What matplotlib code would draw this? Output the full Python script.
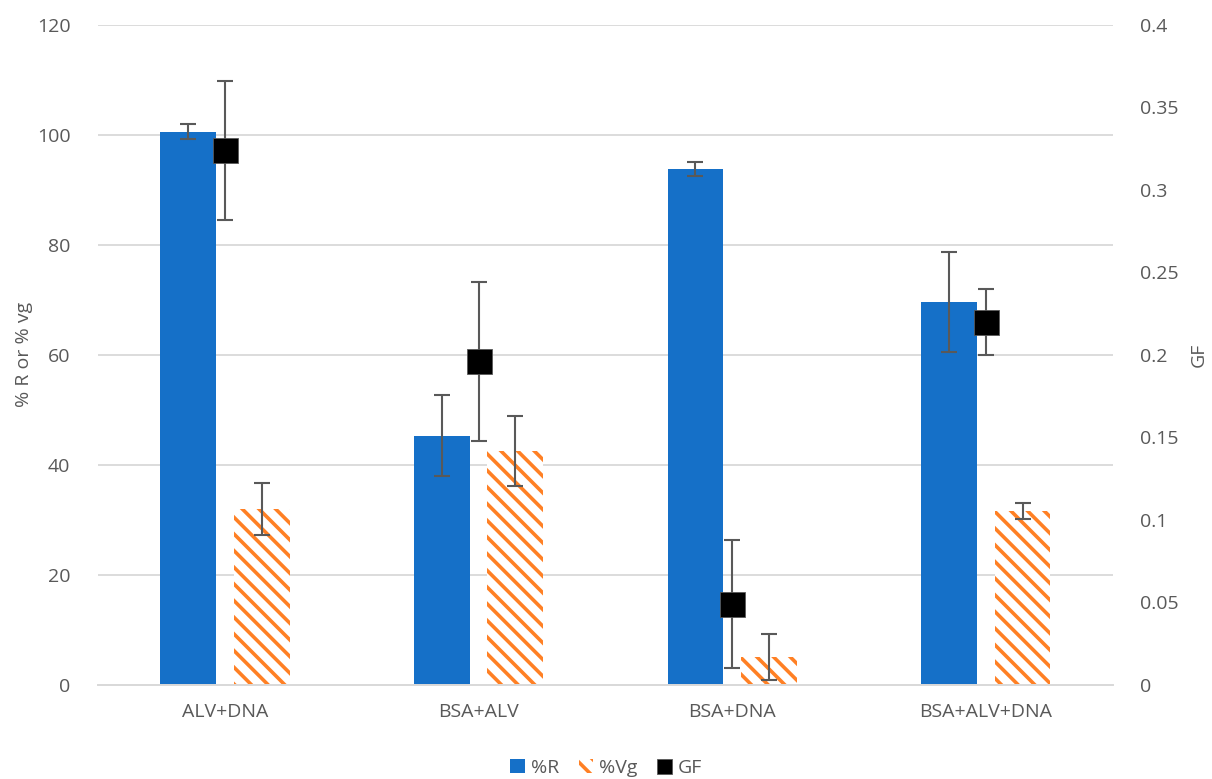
import numpy as np
import matplotlib.pyplot as plt

plt.rcParams["font.family"] = ["Open Sans", "DejaVu Sans"]
plt.rcParams["hatch.linewidth"] = 2.6

# ── Data ────────────────────────────────────────────────────────────────────────

categories = ["ALV+DNA", "BSA+ALV", "BSA+DNA", "BSA+ALV+DNA"]

r_pct = [100.6, 45.3, 93.8, 69.6]
r_err = [1.4, 7.4, 1.3, 9.1]

vg_pct = [32.0, 42.5, 5.1, 31.6]
vg_err = [4.7, 6.4, 4.2, 1.5]

gf = [0.324, 0.196, 0.049, 0.220]
gf_err = [0.042, 0.048, 0.039, 0.020]

BLUE = "#1570C8"
ORANGE = "#FF8024"
GREY = "#595959"
GRID = "#D9D9D9"

fig = plt.figure(figsize=(12.12, 7.79), dpi=100)
ax = fig.add_axes([0.081, 0.121, 0.837, 0.847])
ax2 = ax.twinx()

x = np.arange(len(categories))
w = 0.22
off = 0.145

ax.bar(x - off, r_pct, width=w, color=BLUE, label="%R", zorder=2)
ax.errorbar(x - off, r_pct, yerr=r_err, fmt="none", ecolor=GREY,
            elinewidth=1.5, capsize=6, capthick=1.5, zorder=3)

ax.bar(x + off, vg_pct, width=w, facecolor="white", edgecolor=ORANGE,
       hatch="\\\\", linewidth=0, label="%Vg", zorder=2)
ax.errorbar(x + off, vg_pct, yerr=vg_err, fmt="none", ecolor=GREY,
            elinewidth=1.5, capsize=6, capthick=1.5, zorder=3)

ax2.errorbar(x, gf, yerr=gf_err, fmt="none", ecolor=GREY,
             elinewidth=1.5, capsize=6, capthick=1.5, zorder=3)
ax2.plot(x, gf, linestyle="none", marker="s", markersize=18,
         color="black", markeredgecolor=GREY, markeredgewidth=0.6,
         label="GF", zorder=4)

ax.set_xlim(-0.5, len(categories) - 0.5)
ax.set_ylim(0, 120)
ax.set_yticks(range(0, 121, 20))
ax2.set_ylim(0, 0.4)
ax2.set_yticks([0, 0.05, 0.1, 0.15, 0.2, 0.25, 0.3, 0.35, 0.4])
ax2.set_yticklabels(["0", "0.05", "0.1", "0.15", "0.2", "0.25", "0.3", "0.35", "0.4"])

ax.set_xticks(x)
ax.set_xticklabels(categories)

ax.yaxis.grid(True, color=GRID, linewidth=1.3, zorder=0)
ax.set_axisbelow(True)

for a in (ax, ax2):
    for side in ("top", "left", "right"):
        a.spines[side].set_visible(False)
    a.spines["bottom"].set_color(GRID)
    a.spines["bottom"].set_linewidth(1.3)
    a.tick_params(axis="both", length=0, colors=GREY, labelsize=14)

ax.tick_params(axis="y", pad=20)
ax2.tick_params(axis="y", pad=20)
ax.tick_params(axis="x", pad=13)

ax.set_ylabel("% R or % vg", color=GREY, fontsize=14, labelpad=3)
ax2.set_ylabel("GF", color=GREY, fontsize=14, labelpad=8)

h1, l1 = ax.get_legend_handles_labels()
h2, l2 = ax2.get_legend_handles_labels()
fig.legend(h1 + h2, l1 + l2, loc="lower center", bbox_to_anchor=(0.5, -0.02),
           ncol=3, frameon=False, fontsize=14, labelcolor=GREY,
           handlelength=0.75, handleheight=0.75, handletextpad=0.3,
           columnspacing=1.0, markerscale=0.6)

fig.savefig("out.png", dpi=100)
